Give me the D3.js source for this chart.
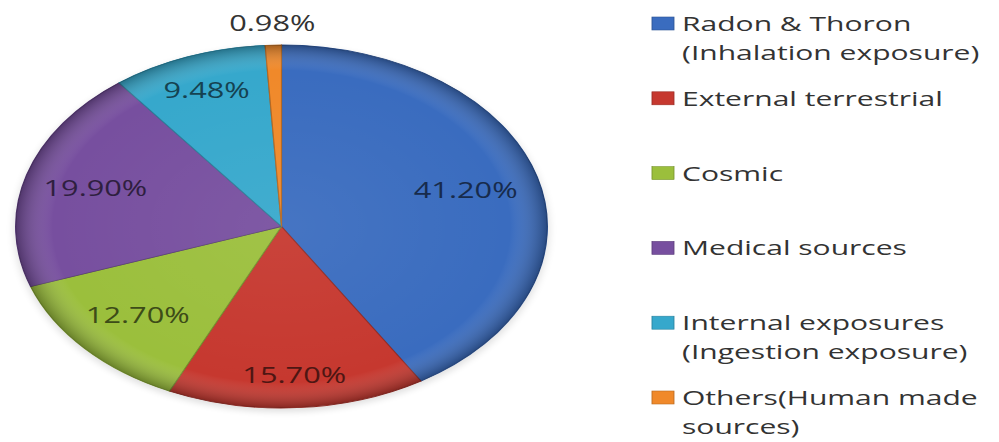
<!DOCTYPE html>
<html>
<head>
<meta charset="utf-8">
<script src="https://cdn.jsdelivr.net/npm/d3@7"></script>
<style>
  body { margin: 0; background: #fff; }
  text { font-family: "Open Sans", "Noto Sans", sans-serif; }
</style>
</head>
<body>
<svg id="chart" width="999" height="442"></svg>
<script>
// slices, clockwise from 12 o'clock
var categories = ["Radon & Thoron (Inhalation exposure)", "External terrestrial", "Cosmic",
                  "Medical sources", "Internal exposures (Ingestion exposure)", "Others(Human made sources)"];
var values = [41.2, 15.7, 12.7, 19.9, 9.48, 0.98];
var legendLines = [
  ["Radon & Thoron", "(Inhalation exposure)"],
  ["External terrestrial"],
  ["Cosmic"],
  ["Medical sources"],
  ["Internal exposures", "(Ingestion exposure)"],
  ["Others(Human made", "sources)"]
];
var colors = ["#3a6cbf", "#c6382f", "#9bbf3c", "#774f9f", "#36a8cc", "#f0892a"];
// where each label sits, as a fraction of the radius
var labelPos = [0.72, 0.82, 0.73, 0.73, 0.80, 1.12];

var svg = d3.select("#chart");
var sx = 1.465;          // the picture is stretched sideways
var r = 181.5;

var defs = svg.append("defs");
var grad = defs.append("radialGradient").attr("id", "bevel")
  .attr("cx", "50%").attr("cy", "50%").attr("r", "50%");
grad.append("stop").attr("offset", "0%").attr("stop-color", "#fff").attr("stop-opacity", 0.06);
grad.append("stop").attr("offset", "86%").attr("stop-color", "#fff").attr("stop-opacity", 0);
grad.append("stop").attr("offset", "100%").attr("stop-color", "#000").attr("stop-opacity", 0.32);

var blur = defs.append("filter").attr("id", "shadow")
  .attr("x", "-10%").attr("y", "-10%").attr("width", "120%").attr("height", "120%");
blur.append("feGaussianBlur").attr("stdDeviation", 3);

var g = svg.append("g").attr("transform", "translate(281.5,226.5) scale(" + sx + ",1)");

var pie = d3.pie().sort(null).value(function(d) { return d; });
var arcs = pie(values);
var arc = d3.arc().innerRadius(0).outerRadius(r);

g.append("circle").attr("cx", 0).attr("cy", 3).attr("r", r + 1)
  .attr("fill", "#000").attr("opacity", 0.12).attr("filter", "url(#shadow)");

g.selectAll("path.slice").data(arcs).enter().append("path")
  .attr("class", "slice")
  .attr("d", arc)
  .attr("fill", function(d, i) { return colors[i]; })
  .attr("stroke", function(d, i) { return d3.color(colors[i]).darker(0.8); })
  .attr("stroke-width", 0.8);

g.append("circle").attr("r", r).attr("fill", "url(#bevel)").attr("pointer-events", "none");

g.selectAll("text.lbl").data(arcs).enter().append("text")
  .attr("class", "lbl")
  .attr("transform", function(d, i) {
    var la = d3.arc().innerRadius(r * labelPos[i]).outerRadius(r * labelPos[i]);
    var c = la.centroid(d);
    return "translate(" + c[0] + "," + (c[1] + 7.5) + ")";
  })
  .attr("text-anchor", "middle")
  .attr("font-size", 21)
  .attr("fill", function(d, i) { return i == 5 ? "#333" : d3.color(colors[i]).darker(2.6); })
  .text(function(d) { return d.value.toFixed(2) + "%"; });

// legend
var ly = d3.scalePoint().domain(categories).range([31, 405]);
var leg = svg.append("g").attr("transform", "translate(652,0) scale(" + sx + ",1)");
var item = leg.selectAll("g.item").data(categories).enter().append("g")
  .attr("class", "item")
  .attr("transform", function(d) { return "translate(0," + ly(d) + ")"; });

item.append("rect")
  .attr("x", 0).attr("y", -14).attr("width", 15).attr("height", 13)
  .attr("fill", function(d, i) { return colors[i]; })
  .attr("stroke", function(d, i) { return d3.color(colors[i]).darker(0.7); })
  .attr("stroke-width", 0.6);

item.append("text")
  .attr("x", 20.5)
  .attr("font-size", 20.5)
  .attr("fill", "#333")
  .selectAll("tspan").data(function(d, i) { return legendLines[i]; }).enter().append("tspan")
  .attr("x", 20.5)
  .attr("dy", function(d, j) { return j == 0 ? 0 : 29; })
  .text(function(d) { return d; });
</script>
</body>
</html>
